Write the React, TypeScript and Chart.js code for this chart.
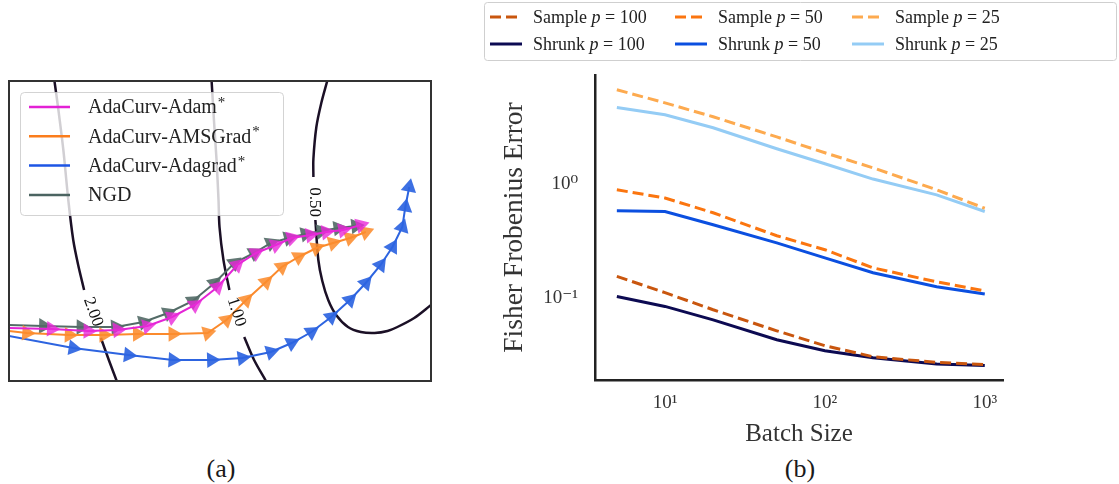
import React, { useEffect, useRef } from 'react';
import { Chart, registerables } from 'chart.js';
Chart.register(...registerables);

const SERIF = '"Liberation Serif", "DejaVu Serif", serif';

// ---------- Panel (a): contour plot with optimiser trajectories ----------
const adamX = [0, 43, 80, 110, 140, 165, 188, 211, 231, 250, 270, 286, 305, 321, 338, 356];
const adamY = [53, 52, 50, 51, 55, 64, 76, 94, 116, 128, 136, 143, 146, 149, 151, 156];
const amsX = [0, 18, 61, 96, 130, 166, 201, 220, 240, 260, 276, 293, 311, 328, 345, 361];
const amsY = [50, 48, 46, 46, 47, 47, 48, 61, 81, 99, 114, 124, 133, 138, 143, 149];
const adagX = [0, 65, 121, 166, 205, 236, 265, 286, 306, 326, 345, 361, 376, 388, 398, 401, 405];
const adagY = [45, 33, 26, 21, 21, 23, 29, 38, 49, 64, 81, 98, 116, 134, 154, 174, 194];
const ngdX = [0, 35, 73, 108, 136, 161, 186, 208, 228, 248, 265, 283, 300, 316, 333, 351];
const ngdY = [56, 55, 54, 54, 59, 68, 80, 98, 118, 128, 138, 143, 147, 150, 153, 155];

const contour2X = [46, 50, 55, 60, 65, 70, 76, 84, 93, 101, 109];
const contour2Y = [300, 271, 231, 181, 141, 116, 91, null, 43, 21, 0];
const contour1X = [205, 208, 210, 212, 213, 217, 223, 230, 238, 248, 260];
const contour1Y = [300, 251, 221, 181, 154, 121, 91, null, 44, 21, 0];
const contour05X = [322, 316, 311, 308, 308, 309, 310, 313, 317, 323, 331, 343, 356, 370, 383, 393, 410, 427];
const contour05Y = [300, 278, 254, 222, 204, null, 161, 121, 100, 81, 66, 54, 49, 48, 50, 54, 63, 76];

const contourLabels = ['2.00', '1.00', '0.50'];
const contourLabelX = [85, 230, 309.5];
const contourLabelY = [69, 69, 179];
const contourLabelAngle = [70, 72, 90];

// ---------- Panel (b): Fisher estimation error ----------
const batchSizes = [5, 10, 20, 50, 100, 200, 500, 1000];
const sample100 = [0.154, 0.111, 0.0785, 0.0513, 0.038, 0.0304, 0.0271, 0.0259];
const sample50 = [0.886, 0.75, 0.557, 0.35, 0.264, 0.183, 0.138, 0.115];
const sample25 = [6.68, 5.13, 3.87, 2.58, 1.87, 1.38, 0.886, 0.61];
const shrunk100 = [0.1026, 0.084, 0.064, 0.0428, 0.0343, 0.0298, 0.0263, 0.0255];
const shrunk50 = [0.58, 0.571, 0.437, 0.303, 0.224, 0.166, 0.125, 0.108];
const shrunk25 = [4.67, 4.03, 3.1, 2.03, 1.5, 1.1, 0.8, 0.571];
const xTickValues = [10, 100, 1000];
const yTickValues = [0.1, 1];

const SUP: Record<string, string> = { '-': '⁻', '0': '⁰', '1': '¹', '2': '²', '3': '³', '4': '⁴' };
const powerLabel = (v: number) =>
  '10' + String(Math.round(Math.log10(v))).split('').map((c) => SUP[c] ?? c).join('');

const pts = (xs: number[], ys: (number | null)[]) => xs.map((x, i) => ({ x, y: ys[i] }));

function arrowRotation(c: any) {
  const data = c.dataset.data;
  const i = c.dataIndex;
  const sx = c.chart.scales.x;
  const sy = c.chart.scales.y;
  const a = data[Math.max(0, i - 1)];
  const b = data[Math.min(data.length - 1, i + 1)];
  const dx = sx.getPixelForValue(b.x) - sx.getPixelForValue(a.x);
  const dy = sy.getPixelForValue(b.y) - sy.getPixelForValue(a.y);
  return (Math.atan2(dy, dx) * 180) / Math.PI + 90;
}

function rrect(ctx: CanvasRenderingContext2D, x: number, y: number, w: number, h: number, r: number) {
  ctx.beginPath();
  ctx.moveTo(x + r, y);
  ctx.lineTo(x + w - r, y);
  ctx.arcTo(x + w, y, x + w, y + r, r);
  ctx.lineTo(x + w, y + h - r);
  ctx.arcTo(x + w, y + h, x + w - r, y + h, r);
  ctx.lineTo(x + r, y + h);
  ctx.arcTo(x, y + h, x, y + h - r, r);
  ctx.lineTo(x, y + r);
  ctx.arcTo(x, y, x + r, y, r);
  ctx.closePath();
}

const framePlugin = {
  id: 'frame',
  afterDatasetsDraw(chart: any) {
    const { ctx, chartArea: a } = chart;
    ctx.save();
    ctx.strokeStyle = '#333';
    ctx.lineWidth = 2;
    ctx.strokeRect(a.left, a.top, a.right - a.left, a.bottom - a.top);
    ctx.restore();
  },
};

const contourLabelPlugin = {
  id: 'contourLabels',
  afterDatasetsDraw(chart: any) {
    const { ctx } = chart;
    const sx = chart.scales.x;
    const sy = chart.scales.y;
    ctx.save();
    ctx.font = `17px ${SERIF}`;
    ctx.fillStyle = '#111';
    ctx.textAlign = 'center';
    ctx.textBaseline = 'middle';
    contourLabels.forEach((t, i) => {
      ctx.save();
      ctx.translate(sx.getPixelForValue(contourLabelX[i]), sy.getPixelForValue(contourLabelY[i]));
      ctx.rotate((contourLabelAngle[i] * Math.PI) / 180);
      ctx.fillText(t, 0, 0);
      ctx.restore();
    });
    ctx.restore();
  },
};

const legendAPlugin = {
  id: 'legendA',
  afterDraw(chart: any) {
    const { ctx, chartArea: a } = chart;
    const bx = a.left + 11;
    const by = a.top + 11;
    ctx.save();
    rrect(ctx, bx + 0.5, by + 0.5, 263, 123, 4);
    ctx.fillStyle = 'rgba(255,255,255,0.8)';
    ctx.fill();
    ctx.strokeStyle = 'rgba(200,200,200,0.8)';
    ctx.lineWidth = 1;
    ctx.stroke();
    const items = chart.data.datasets.filter((d: any) => !d.isContour);
    items.forEach((d: any, i: number) => {
      const yy = by + 15 + i * 29.3;
      ctx.beginPath();
      ctx.strokeStyle = d.legendColor;
      ctx.lineWidth = 2.5;
      ctx.moveTo(bx + 9, yy);
      ctx.lineTo(bx + 50, yy);
      ctx.stroke();
      const star = d.label.endsWith('*');
      const txt = star ? d.label.slice(0, -1) : d.label;
      ctx.fillStyle = '#222';
      ctx.textBaseline = 'middle';
      ctx.textAlign = 'left';
      ctx.font = `20px ${SERIF}`;
      ctx.fillText(txt, bx + 68, yy + 1);
      if (star) {
        const w = ctx.measureText(txt).width;
        ctx.font = `15px ${SERIF}`;
        ctx.fillText('*', bx + 68 + w + 1, yy - 4);
      }
    });
    ctx.restore();
  },
};

const legendBPlugin = {
  id: 'legendB',
  afterDraw(chart: any) {
    const { ctx } = chart;
    ctx.save();
    rrect(ctx, 14.5, 2.5, 632, 58, 3);
    ctx.fillStyle = '#fff';
    ctx.fill();
    ctx.strokeStyle = '#cfcfcf';
    ctx.lineWidth = 1;
    ctx.stroke();
    const colX = [20, 205, 382];
    const rowY = [17, 44];
    chart.data.datasets.forEach((d: any, i: number) => {
      const x = colX[i % 3];
      const y = rowY[Math.floor(i / 3)];
      ctx.beginPath();
      ctx.strokeStyle = d.borderColor;
      ctx.lineWidth = 3;
      ctx.setLineDash(d.borderDash || []);
      ctx.moveTo(x, y);
      ctx.lineTo(x + 32, y);
      ctx.stroke();
      ctx.setLineDash([]);
      const m = /^(.*? )p( = .*)$/.exec(d.label);
      ctx.fillStyle = '#222';
      ctx.textBaseline = 'middle';
      ctx.textAlign = 'left';
      let tx = x + 43;
      const parts: [string, string][] = m
        ? [[m[1], 'normal'], ['p', 'italic'], [m[2], 'normal']]
        : [[d.label, 'normal']];
      parts.forEach(([t, st]) => {
        ctx.font = `${st} 18px "Liberation Serif", "DejaVu Serif", serif`;
        ctx.fillText(t, tx, y + 1);
        tx += ctx.measureText(t).width;
      });
    });
    ctx.restore();
  },
};

function trajectory(label: string, xs: number[], ys: number[], line: string, marker: string, legendColor: string) {
  return {
    label,
    data: pts(xs, ys),
    borderColor: line,
    borderWidth: 2,
    legendColor,
    tension: 0,
    pointStyle: 'triangle',
    pointRadius: (c: any) => (c.dataIndex === 0 ? 0 : 9),
    rotation: arrowRotation,
    pointRotation: arrowRotation,
    pointBackgroundColor: marker,
    pointBorderColor: marker,
    pointBorderWidth: 0,
  };
}

function contour(xs: number[], ys: (number | null)[]) {
  return {
    label: 'contour',
    isContour: true,
    data: pts(xs, ys),
    borderColor: '#1b1026',
    borderWidth: 2.5,
    pointRadius: 0,
    tension: 0.3,
    spanGaps: false,
  };
}

function series(label: string, ys: number[], color: string, dashed: boolean) {
  return {
    label,
    data: batchSizes.map((x, i) => ({ x, y: ys[i] })),
    borderColor: color,
    borderWidth: 3,
    borderDash: dashed ? [11, 5] : [],
    borderCapStyle: 'butt',
    pointRadius: 0,
    tension: 0,
  };
}

export default function App() {
  const aRef = useRef<HTMLCanvasElement>(null);
  const bRef = useRef<HTMLCanvasElement>(null);

  useEffect(() => {
    const chartA = new Chart(aRef.current!, {
      type: 'line',
      data: {
        datasets: [
          trajectory('AdaCurv-Adam*', adamX, adamY, '#e424d6', 'rgba(232,40,216,0.8)', '#e321d5'),
          trajectory('AdaCurv-AMSGrad*', amsX, amsY, '#fb8a2c', 'rgba(252,140,45,0.88)', '#fb7d1c'),
          trajectory('AdaCurv-Adagrad*', adagX, adagY, '#2d64e0', 'rgba(45,100,225,0.92)', '#1d55e5'),
          trajectory('NGD', ngdX, ngdY, '#536b67', 'rgba(85,108,104,0.92)', '#4b6461'),
          contour(contour2X, contour2Y),
          contour(contour1X, contour1Y),
          contour(contour05X, contour05Y),
        ] as any,
      },
      options: {
        responsive: false,
        animation: false,
        layout: { padding: { left: 7, top: 21, right: 6, bottom: 19 } },
        scales: {
          x: { type: 'linear', min: 0, max: 427, display: false },
          y: { type: 'linear', min: 0, max: 300, display: false },
        },
        plugins: { legend: { display: false }, tooltip: { enabled: false } },
      } as any,
      plugins: [contourLabelPlugin, framePlugin, legendAPlugin] as any,
    });

    const tickFont = { family: SERIF, size: 19 };
    const chartB = new Chart(bRef.current!, {
      type: 'line',
      data: {
        datasets: [
          series('Sample p = 100', sample100, '#c9560e', true),
          series('Sample p = 50', sample50, '#fb750f', true),
          series('Sample p = 25', sample25, '#fdaa4f', true),
          series('Shrunk p = 100', shrunk100, '#0c0a52', false),
          series('Shrunk p = 50', shrunk50, '#0b4fe0', false),
          series('Shrunk p = 25', shrunk25, '#94ccf5', false),
        ] as any,
      },
      options: {
        responsive: false,
        animation: false,
        layout: { padding: { left: 0, top: 75, right: 116, bottom: 0 } },
        scales: {
          x: {
            type: 'logarithmic',
            min: 3.65,
            max: 1300,
            position: 'bottom',
            grid: { display: false, drawTicks: false },
            border: { display: true, color: '#222', width: 2.5 },
            ticks: { font: tickFont, color: '#333', padding: 12, autoSkip: false, maxRotation: 0, callback: (v: any) => powerLabel(Number(v)) },
            afterBuildTicks: (s: any) => { s.ticks = xTickValues.map((value) => ({ value })); },
            afterFit: (s: any) => { s.height = 72; },
            title: { display: true, text: 'Batch Size', font: { family: SERIF, size: 25 }, color: '#333', padding: { top: 0, bottom: 3 } },
          },
          y: {
            type: 'logarithmic',
            min: 0.019,
            max: 9,
            position: 'left',
            grid: { display: false, drawTicks: false },
            border: { display: true, color: '#222', width: 2.5 },
            ticks: { font: tickFont, color: '#333', padding: 17, autoSkip: false, callback: (v: any) => powerLabel(Number(v)) },
            afterBuildTicks: (s: any) => { s.ticks = yTickValues.map((value) => ({ value })); },
            afterFit: (s: any) => { s.width = 125; },
            title: { display: true, text: 'Fisher Frobenius Error', font: { family: SERIF, size: 27.5 }, color: '#333', padding: { top: 28, bottom: 0 } },
          },
        },
        plugins: { legend: { display: false }, tooltip: { enabled: false } },
      } as any,
      plugins: [legendBPlugin] as any,
    });

    return () => {
      chartA.destroy();
      chartB.destroy();
    };
  }, []);

  const caption: React.CSSProperties = {
    position: 'absolute',
    width: 100,
    top: 454,
    textAlign: 'center',
    fontFamily: SERIF,
    fontSize: 26,
    lineHeight: '30px',
    color: '#1a1a1a',
  };

  return (
    <div style={{ position: 'fixed', left: 0, top: 0, width: 1119, height: 484, background: '#fff', overflow: 'hidden' }}>
      <canvas ref={aRef} width={440} height={340} style={{ position: 'absolute', left: 0, top: 60 }} />
      <canvas ref={bRef} width={649} height={452} style={{ position: 'absolute', left: 470, top: 0 }} />
      <div style={{ ...caption, left: 171 }}>(a)</div>
      <div style={{ ...caption, left: 750 }}>(b)</div>
    </div>
  );
}
